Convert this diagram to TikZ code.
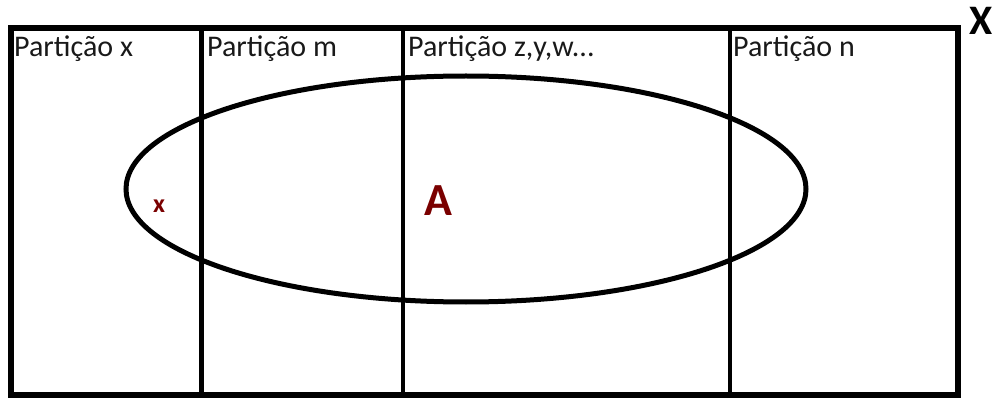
\documentclass[tikz,border=0pt]{standalone}
\usepackage{fontspec}
\setmainfont{Carlito}
\definecolor{darkred}{HTML}{7A0000}
\begin{document}
\begin{tikzpicture}[x=1pt,y=-1pt,
  frame/.style={line width=6pt},
  divider/.style={line width=4.5pt},
  setline/.style={line width=5pt},
  plabel/.style={anchor=base west,inner sep=0pt,font=\fontsize{30}{30}\selectfont,text=black!90},
  redlabel/.style={inner sep=0pt,text=darkred,font=\bfseries}]
\useasboundingbox (0,0) rectangle (997,401);
\draw[frame] (11,28.5) rectangle (958,395);
\draw[divider] (201.5,28.5) -- (201.5,395);
\draw[divider] (403,28.5) -- (403,395);
\draw[divider] (730,28.5) -- (730,395);
\draw[setline] (466,189) ellipse [x radius=340, y radius=113];
\node[plabel] (px) at (14,57) {Partição x};
\node[plabel] (pm) at (207,57) {Partição m};
\node[plabel] (pz) at (408,57) {Partição z,y,w...};
\node[plabel] (pn) at (733,57) {Partição n};
\node[anchor=base west,inner sep=0pt,font=\bfseries\fontsize{42}{42}\selectfont] (X) at (969,35) {X};
\node[redlabel,anchor=base west,font=\bfseries\fontsize{46}{46}\selectfont] (A) at (424,215) {A};
\node[redlabel,anchor=base west,font=\bfseries\fontsize{26}{26}\selectfont] (x) at (153,212) {x};
\end{tikzpicture}
\end{document}
